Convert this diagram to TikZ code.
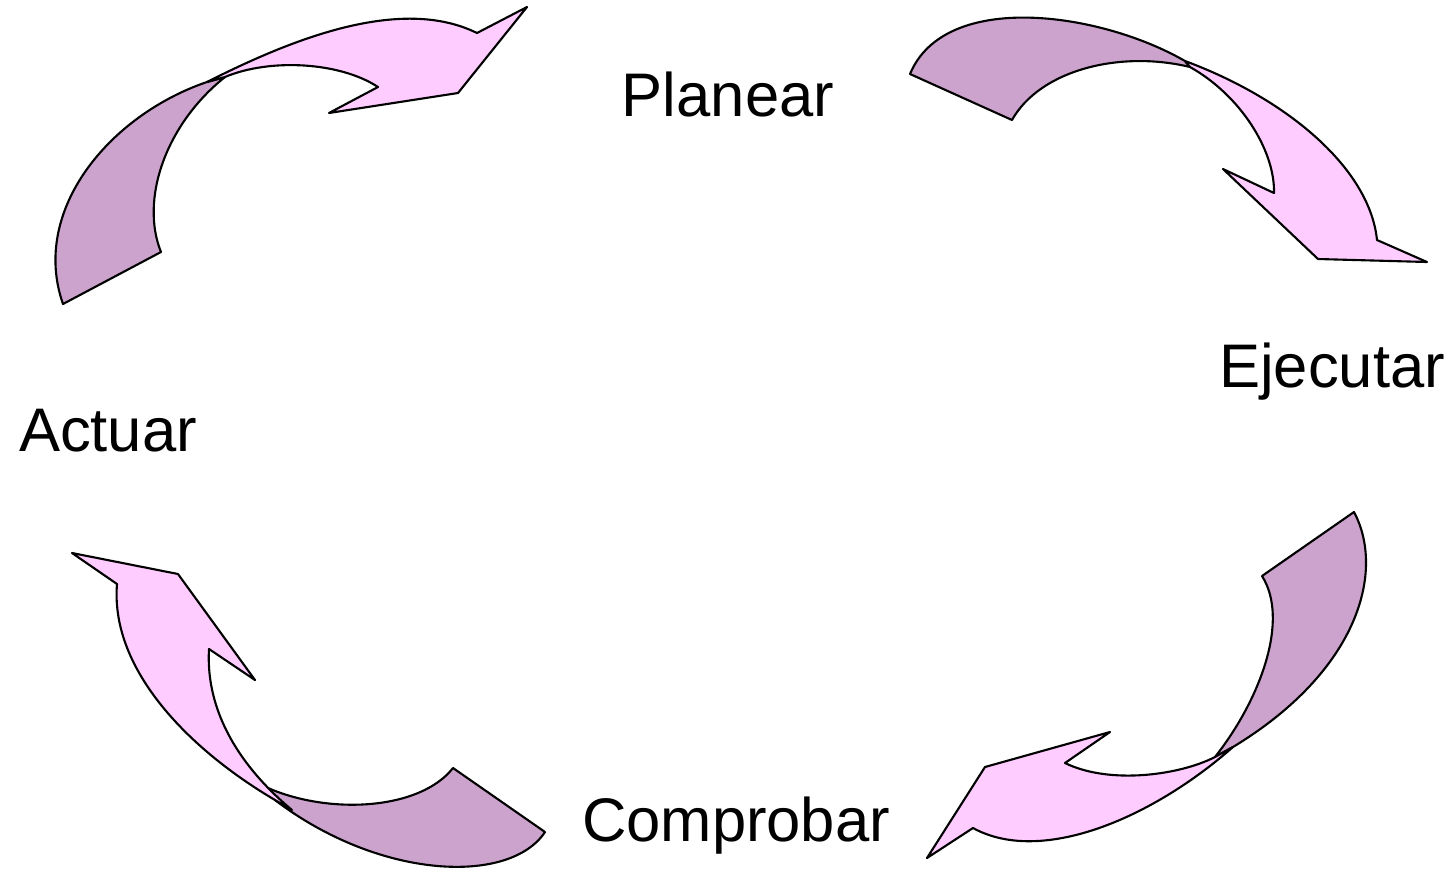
\documentclass[tikz,border=0pt]{standalone}
\usepackage{fontspec}
\setmainfont{Liberation Sans}
\usepackage{xcolor}
\usepackage{tikz}
\usetikzlibrary{positioning}

\definecolor{lightpink}{HTML}{FFCCFF}
\definecolor{darkpink}{HTML}{CCA3CC}

\begin{document}
\begin{tikzpicture}[
    x=0.01cm, y=-0.01cm,
    front/.style={draw=black, fill=lightpink, line width=0.6pt, line join=round},
    back/.style={draw=black, fill=darkpink, line width=0.6pt, line join=round},
    label/.style={anchor=base, inner sep=0pt, font=\fontsize{17.5}{21}\selectfont}
]
\useasboundingbox (0,0) rectangle (1456,875);

% stage names
\node[label] (planear) at (728,116) {Planear};
\node[label] (ejecutar) at (1332,387) {Ejecutar};
\node[label] (comprobar) at (736,841) {Comprobar};
\node[label] (actuar) at (108,451) {Actuar};

% top left arrow
\draw[back] (63,304) -- (161,252)
  .. controls (140,200) and (165,125) .. (225,77) -- (207,82)
  .. controls (110,115) and (30,210) .. (63,304) -- cycle;
\draw[front] (207,82)
  .. controls (290,40) and (400,-5) .. (477,33)
  -- (527,7) -- (458,93) -- (329,113) -- (378,87)
  .. controls (340,62) and (270,58) .. (225,77) -- cycle;

% top right arrow
\draw[back] (910,74) -- (1012,120)
  .. controls (1040,70) and (1120,50) .. (1190,67) -- (1185,61)
  .. controls (1100,12) and (945,-10) .. (910,74) -- cycle;
\draw[front] (1185,61)
  .. controls (1290,100) and (1370,170) .. (1377,240)
  -- (1427,262) -- (1318,259) -- (1223,169) -- (1274,193)
  .. controls (1275,150) and (1240,95) .. (1190,67) -- cycle;

% bottom right arrow
\draw[back] (1262,576) -- (1354,512)
  .. controls (1385,570) and (1360,670) .. (1233,747) -- (1215,757)
  .. controls (1260,700) and (1290,620) .. (1262,576) -- cycle;
\draw[front] (1233,747)
  .. controls (1150,820) and (1040,865) .. (973,828)
  -- (927,858) -- (985,767) -- (1110,732) -- (1065,763)
  .. controls (1110,785) and (1180,775) .. (1215,757) -- cycle;

% bottom left arrow
\draw[back] (453,768) -- (545,832)
  .. controls (510,885) and (380,880) .. (275,800) -- (268,788)
  .. controls (330,815) and (420,810) .. (453,768) -- cycle;
\draw[front] (117,584) -- (72,553) -- (178,574) -- (255,680) -- (209,649)
  .. controls (205,720) and (250,775) .. (292,810) -- (275,800)
  .. controls (190,750) and (110,670) .. (117,584) -- cycle;

\end{tikzpicture}
\end{document}
